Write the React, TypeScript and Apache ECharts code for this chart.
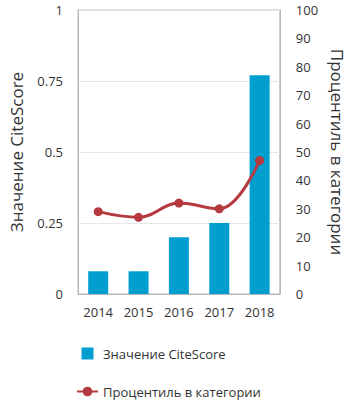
import React, { useEffect, useRef } from "react";
import * as echarts from "echarts";

const years = ["2014", "2015", "2016", "2017", "2018"];
const citeScore = [0.08, 0.08, 0.2, 0.25, 0.77];
const percentile = [29, 27, 32, 30, 47];
const leftTicks = [0, 0.25, 0.5, 0.75, 1];

export default function App() {
  const ref = useRef<HTMLDivElement>(null);
  useEffect(() => {
    if (!ref.current) return;
    const chart = echarts.init(ref.current, undefined, { renderer: "svg" });
    const font = "'Open Sans', 'Noto Sans', sans-serif";
    chart.setOption({
      animation: false,
      textStyle: { fontFamily: font },
      grid: { left: 73, right: 71, top: 10, bottom: 111, show: true, borderColor: "#b8b8b8", borderWidth: 1 },
      legend: {
        orient: "vertical",
        left: 71,
        top: 342,
        itemWidth: 21,
        itemHeight: 12,
        itemGap: 25,
        textStyle: { fontSize: 13, color: "#333", fontFamily: font },
        data: [
          { name: "Значение CiteScore", icon: "path://M0,0H9V9H0Z" },
          { name: "Процентиль в категории" },
        ],
      },
      xAxis: {
        type: "category",
        data: years,
        axisLine: { lineStyle: { color: "#b8b8b8" } },
        axisTick: { show: false },
        axisLabel: { color: "#333", fontSize: 13, margin: 11 },
      },
      yAxis: [
        {
          type: "value",
          min: 0,
          max: 1,
          interval: 0.25,
          name: "Значение CiteScore",
          nameLocation: "middle",
          nameRotate: 90,
          nameGap: 53,
          nameTextStyle: { fontSize: 17, color: "#333" },
          axisLine: { show: true, lineStyle: { color: "#b8b8b8" } },
          axisLabel: { color: "#333", fontSize: 13, margin: 15, formatter: (v: number) => (leftTicks.includes(v) ? String(v) : "") },
          splitLine: { lineStyle: { color: "#e6e6e6" } },
        },
        {
          type: "value",
          min: 0,
          max: 100,
          interval: 10,
          name: "Процентиль в категории",
          nameLocation: "middle",
          nameRotate: -90,
          nameGap: 47,
          nameTextStyle: { fontSize: 17, color: "#333" },
          axisLine: { show: true, lineStyle: { color: "#b8b8b8" } },
          axisLabel: { color: "#333", fontSize: 13, margin: 16 },
          splitLine: { show: false },
        },
      ],
      series: [
        {
          name: "Значение CiteScore",
          type: "bar",
          data: citeScore,
          barWidth: 20,
          itemStyle: { color: "#009fd0" },
        },
        {
          name: "Процентиль в категории",
          type: "line",
          yAxisIndex: 1,
          data: percentile,
          smooth: 0.4,
          symbol: "circle",
          symbolSize: 9,
          lineStyle: { color: "#b53a40", width: 3 },
          itemStyle: { color: "#b53a40" },
        },
      ],
    });
    return () => chart.dispose();
  }, []);
  return <div ref={ref} style={{ width: 354, height: 405, position: "absolute", left: 0, top: 0 }} />;
}
